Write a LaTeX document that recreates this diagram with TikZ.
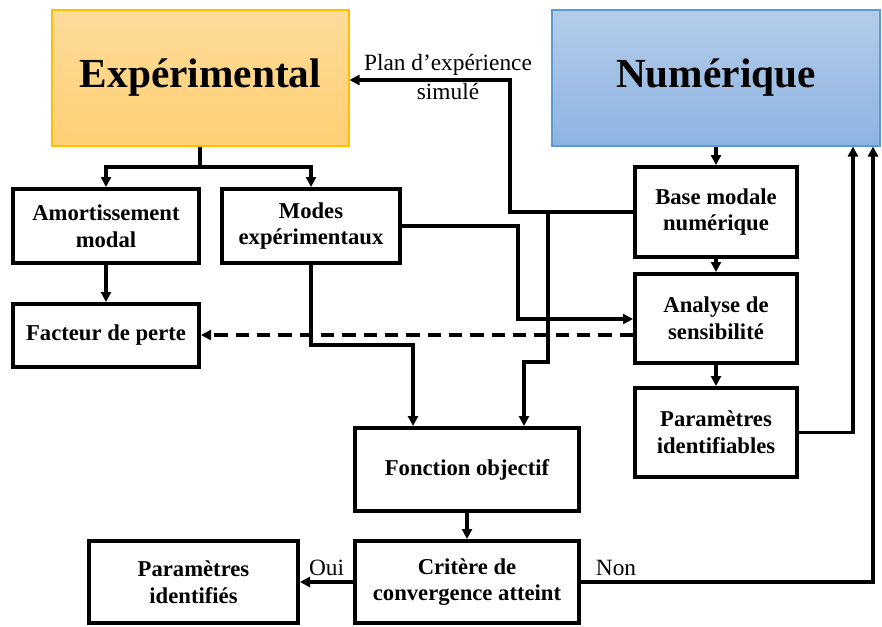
\documentclass[tikz,border=0pt]{standalone}
\usepackage{fontspec}
\setmainfont{Liberation Serif}
\usetikzlibrary{arrows.meta}
\definecolor{orangetop}{RGB}{253,219,154}
\definecolor{orangebot}{RGB}{255,208,116}
\definecolor{orangeline}{RGB}{255,192,0}
\definecolor{bluetop}{RGB}{180,204,233}
\definecolor{bluebot}{RGB}{141,180,226}
\definecolor{blueline}{RGB}{91,155,213}
\tikzset{
  blockbox/.style={draw, line width=3pt, inner sep=0pt, align=center,
    font=\fontsize{17}{20}\selectfont\bfseries},
  titlebox/.style={inner sep=0pt, line width=0.8pt,
    font=\fontsize{31}{34}\selectfont\bfseries},
  link/.style={line width=2.4pt, -{Triangle[length=7.5pt,width=7.5pt]}},
  flowlabel/.style={font=\fontsize{17.5}{21}\selectfont, align=center}
}
\begin{document}
\begin{tikzpicture}[x=0.75pt, y=-0.75pt]
      \useasboundingbox (0,0) rectangle (882,626);
      % titres
      \node[titlebox, draw=orangeline, top color=orangetop, bottom color=orangebot,
        minimum width=222.75pt, minimum height=102pt] (exp) at (200.5,78) {Expérimental};
      \node[titlebox, draw=blueline, top color=bluetop, bottom color=bluebot,
        minimum width=246pt, minimum height=102pt] (num) at (716,78) {Numérique};
      % blocs
      \node[blockbox, minimum width=139.5pt, minimum height=55.5pt] (amort) at (106,226) {Amortissement\\modal};
      \node[blockbox, minimum width=133.5pt, minimum height=55.5pt] (modes) at (311,226) {Modes\\expérimentaux};
      \node[blockbox, minimum width=139.5pt, minimum height=47.25pt] (perte) at (106,335.5) {Facteur de perte};
      \node[blockbox, minimum width=121.5pt, minimum height=67.5pt] (base) at (716,212) {Base modale\\numérique};
      \node[blockbox, minimum width=121.5pt, minimum height=66.75pt] (sens) at (716,318.5) {Analyse de\\sensibilité};
      \node[blockbox, minimum width=121.5pt, minimum height=66.75pt] (pident) at (716,432.5) {Paramètres\\identifiables};
      \node[blockbox, minimum width=168pt, minimum height=62.25pt] (fobj) at (467,469.5) {Fonction objectif};
      \node[blockbox, minimum width=168pt, minimum height=61.5pt] (crit) at (467,582) {Critère de\\convergence atteint};
      \node[blockbox, minimum width=156.75pt, minimum height=61.5pt] (pfin) at (193.5,582) {Paramètres\\identifiés};
      % points de passage
      \coordinate (split) at (200,167);
      \coordinate (tap) at (548,212);
      \begin{scope}[link]
        \draw[-] (exp.south -| split) -- (split);
        \draw (split) -| (amort.north);
        \draw (split) -| (modes.north);
        \draw (amort) -- (perte);
        \draw (num.south -| base) -- (base);
        \draw (base) -- (sens);
        \draw (sens) -- (pident);
        \draw (fobj) -- (crit);
        \draw (pident.east) -- (853,432.5) -- (num.south -| 853,0);
        \draw (crit.east) -- node[flowlabel, above, pos=0.12] {Non} (873,582) -- (num.south -| 873,0);
        \draw (crit.west) -- node[flowlabel, above] {Oui} (pfin.east);
        \draw (modes.east) -- (518,226) -- (518,319) -- (sens.west |- 0,319);
        \draw[dash pattern=on 10pt off 6pt] (sens.west |- 0,335) -- (perte.east |- 0,335);
        \draw (modes.south) -- (311,345) -- (413,345) -- (fobj.north -| 413,0);
        \draw (base.west) -- (510,212) -- (510,80) -- (exp.east |- 0,80);
        \draw (tap) -- (548,362) -- (524,362) -- (fobj.north -| 524,0);
      \end{scope}
      \node[flowlabel] (plan) at (448,77) {Plan d’expérience\\[1pt]simulé};
    \end{tikzpicture}
\end{document}
